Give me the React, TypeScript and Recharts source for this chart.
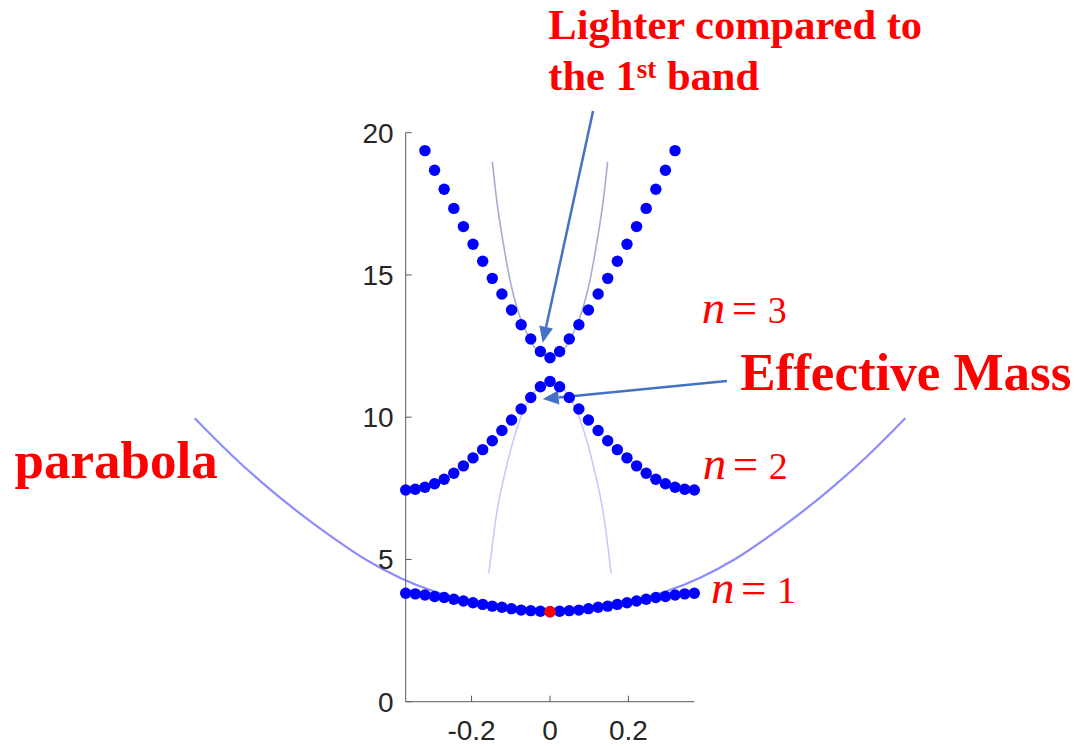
import React from 'react';
import {
  ComposedChart, Scatter, Line, XAxis, YAxis, ReferenceLine, ReferenceDot,
} from 'recharts';

// k grid of the band calculation
const kGrid = [
  -0.368, -0.3435, -0.3189, -0.2944, -0.2699, -0.2453, -0.2208, -0.1963,
  -0.1717, -0.1472, -0.1227, -0.0981, -0.0736, -0.0491, -0.0245, 0,
  0.0245, 0.0491, 0.0736, 0.0981, 0.1227, 0.1472, 0.1717, 0.1963,
  0.2208, 0.2453, 0.2699, 0.2944, 0.3189, 0.3435, 0.368,
];

const band1 = [
  3.81, 3.79, 3.75, 3.70, 3.66, 3.60, 3.54, 3.48, 3.42, 3.36, 3.32, 3.27, 3.22, 3.20, 3.18,
  3.16,
  3.18, 3.20, 3.22, 3.27, 3.32, 3.36, 3.42, 3.48, 3.54, 3.60, 3.66, 3.70, 3.75, 3.79, 3.81,
];
const band2 = [
  7.44, 7.47, 7.54, 7.66, 7.82, 8.03, 8.29, 8.57, 8.86, 9.17, 9.53, 9.90, 10.29, 10.69, 11.07,
  11.26,
  11.07, 10.69, 10.29, 9.90, 9.53, 9.17, 8.86, 8.57, 8.29, 8.03, 7.82, 7.66, 7.54, 7.47, 7.44,
];
// third band runs past 20 at the ends, keep the points inside the frame
const band3K = kGrid.slice(2, 29);
const band3 = [
  19.37, 18.68, 18.01, 17.34, 16.70, 16.08, 15.48, 14.88, 14.33, 13.77, 13.25, 12.75, 12.31,
  12.09,
  12.31, 12.75, 13.25, 13.77, 14.33, 14.88, 15.48, 16.08, 16.70, 17.34, 18.01, 18.68, 19.37,
];
const gammaK = [0];
const gammaE = [3.16];

// free-electron parabola laid over the lowest band
const parabK = [
  -0.906, -0.809, -0.723, -0.638, -0.553, -0.468, -0.383, -0.3, -0.2, -0.1, 0,
  0.1, 0.2, 0.3, 0.383, 0.468, 0.553, 0.638, 0.723, 0.809, 0.906,
];
const parabE = [
  9.96, 8.63, 7.57, 6.62, 5.76, 4.98, 4.36, 3.90, 3.52, 3.30, 3.24,
  3.30, 3.52, 3.90, 4.36, 4.98, 5.76, 6.62, 7.57, 8.63, 9.96,
];

// curvature at k = 0 of band 3 (opens up) and band 2 (opens down)
const fit3K = [-0.147, -0.136, -0.119, -0.102, -0.085, -0.059, -0.034, 0, 0.034, 0.059, 0.085, 0.102, 0.119, 0.136, 0.147];
const fit3E = [18.98, 17.63, 16.11, 14.82, 13.88, 12.95, 12.36, 12.13, 12.36, 12.95, 13.88, 14.82, 16.11, 17.63, 18.98];
const fit2K = [-0.156, -0.136, -0.111, -0.077, -0.043, 0, 0.043, 0.077, 0.111, 0.136, 0.156];
const fit2E = [4.51, 6.62, 8.26, 9.90, 10.84, 11.25, 10.84, 9.90, 8.26, 6.62, 4.51];

const xTicks = [-0.2, 0, 0.2];
const yTicks = [0, 5, 10, 15, 20];

const RED = '#ff0000';
const ARROW = '#4472c4';
const AXIS = '#262626';
const FRAME = '#5a5a5a';
const SERIF = '"Liberation Serif", "Times New Roman", serif';
const SANS = '"Liberation Sans", Arial, Helvetica, sans-serif';

const rows = (ks: number[], es: number[]) => ks.map((k, i) => ({ k, e: es[i] }));

const dot = (color: string) => (p: any) => <circle cx={p.cx} cy={p.cy} r={5.7} fill={color} />;

const xTick = (p: any) => (
  <text x={p.x} y={p.y} dy="0.71em" textAnchor="middle" fontSize={28} fontFamily={SANS} fill={AXIS}>
    {p.payload.value}
  </text>
);
const yTick = (p: any) => (
  <text x={p.x} y={p.y} dy="0.355em" textAnchor="end" fontSize={28} fontFamily={SANS} fill={AXIS}>
    {p.payload.value}
  </text>
);

function arrow(p: any) {
  const { x1, y1, x2, y2 } = p;
  const len = Math.hypot(x2 - x1, y2 - y1);
  const ux = (x2 - x1) / len;
  const uy = (y2 - y1) / len;
  const bx = x2 - ux * 16;
  const by = y2 - uy * 16;
  return (
    <g>
      <line x1={x1} y1={y1} x2={bx} y2={by} stroke={ARROW} strokeWidth={2.5} />
      <polygon
        points={`${x2},${y2} ${bx - uy * 7},${by + ux * 7} ${bx + uy * 7},${by - ux * 7}`}
        fill={ARROW}
      />
    </g>
  );
}

const bandLabel = (n: number) => (p: any) => (
  <text x={p.cx} y={p.cy} fill={RED} fontFamily={SERIF}>
    <tspan fontSize={47} fontStyle="italic">n</tspan>
    <tspan x={p.cx + 30} fontSize={45}>=</tspan>
    <tspan x={p.cx + 66} fontSize={38}>{n}</tspan>
  </text>
);

const boldNote = (label: string) => (p: any) => (
  <text x={p.cx} y={p.cy} fill={RED} fontFamily={SERIF} fontWeight="bold" fontSize={53}>
    {label}
  </text>
);

const lighterNote = (p: any) => (
  <text x={p.cx} y={p.cy} fill={RED} fontFamily={SERIF} fontWeight="bold" fontSize={42.5}>
    Lighter compared to
    <tspan x={p.cx} dy={50.7}>the 1</tspan>
    <tspan fontSize={27} dy={-12}>st</tspan>
    <tspan dy={12}>{' band'}</tspan>
  </text>
);

export default function App() {
  return (
    <div style={{ position: 'absolute', left: 0, top: 0 }}>
      <style>{'.free-curve, .free-curve * { clip-path: none !important; }'}</style>
      <ComposedChart
        width={1077}
        height={746}
        margin={{ top: 132.7, right: 382.7, bottom: 4.3, left: 355.7 }}
      >
        <XAxis
          type="number" dataKey="k" domain={[-0.368, 0.368]} allowDataOverflow
          ticks={xTicks} interval={0} height={40} tickSize={-6} tickMargin={24} stroke={FRAME}
          tick={xTick}
        />
        <XAxis
          xAxisId="top" orientation="top" type="number" domain={[-0.368, 0.368]} allowDataOverflow
          ticks={xTicks} interval={0} height={0} tickSize={-6} stroke={FRAME} tick={false}
        />
        <YAxis
          type="number" dataKey="e" domain={[0, 20]} allowDataOverflow
          ticks={yTicks} interval={0} width={50} tickSize={-6} tickMargin={18} stroke={FRAME}
          tick={yTick}
        />
        <YAxis
          yAxisId="right" orientation="right" type="number" domain={[0, 20]}
          ticks={yTicks} interval={0} width={0} tickSize={-6} stroke={FRAME} tick={false}
        />

        <Scatter className="free-curve" data={rows(kGrid, band1)} shape={dot('#0000ff')} isAnimationActive={false} />
        <Scatter className="free-curve" data={rows(kGrid, band2)} shape={dot('#0000ff')} isAnimationActive={false} />
        <Scatter className="free-curve" data={rows(band3K, band3)} shape={dot('#0000ff')} isAnimationActive={false} />

        <Line
          className="free-curve" data={rows(parabK, parabE)} dataKey="e" type="monotone"
          stroke="#0000ff" strokeOpacity={0.45} strokeWidth={2.2} dot={false} activeDot={false}
          isAnimationActive={false}
        />
        <Line
          className="free-curve" data={rows(fit3K, fit3E)} dataKey="e" type="monotone"
          stroke="#7f8cba" strokeOpacity={0.7} strokeWidth={1.6} dot={false} activeDot={false}
          isAnimationActive={false}
        />
        <Line
          className="free-curve" data={rows(fit2K, fit2E)} dataKey="e" type="monotone"
          stroke="#8f8fff" strokeOpacity={0.5} strokeWidth={1.5} dot={false} activeDot={false}
          isAnimationActive={false}
        />

        <Scatter className="free-curve" data={rows(gammaK, gammaE)} shape={dot('#ff0000')} isAnimationActive={false} />

        <ReferenceLine segment={[{ x: 0.1098, y: 20.76 }, { x: -0.0186, y: 12.62 }]} ifOverflow="visible" shape={arrow} />
        <ReferenceLine segment={[{ x: 0.4511, y: 11.27 }, { x: -0.0186, y: 10.64 }]} ifOverflow="visible" shape={arrow} />

        <ReferenceDot x={-0.0043} y={23.28} r={0} ifOverflow="visible" shape={lighterNote} />
        <ReferenceDot x={0.4851} y={10.96} r={0} ifOverflow="visible" shape={boldNote('Effective Mass')} />
        <ReferenceDot x={-1.3658} y={7.85} r={0} ifOverflow="visible" shape={boldNote('parabola')} />
        <ReferenceDot x={0.3873} y={13.32} r={0} ifOverflow="visible" shape={bandLabel(3)} />
        <ReferenceDot x={0.3898} y={7.82} r={0} ifOverflow="visible" shape={bandLabel(2)} />
        <ReferenceDot x={0.4103} y={3.46} r={0} ifOverflow="visible" shape={bandLabel(1)} />
      </ComposedChart>
    </div>
  );
}
